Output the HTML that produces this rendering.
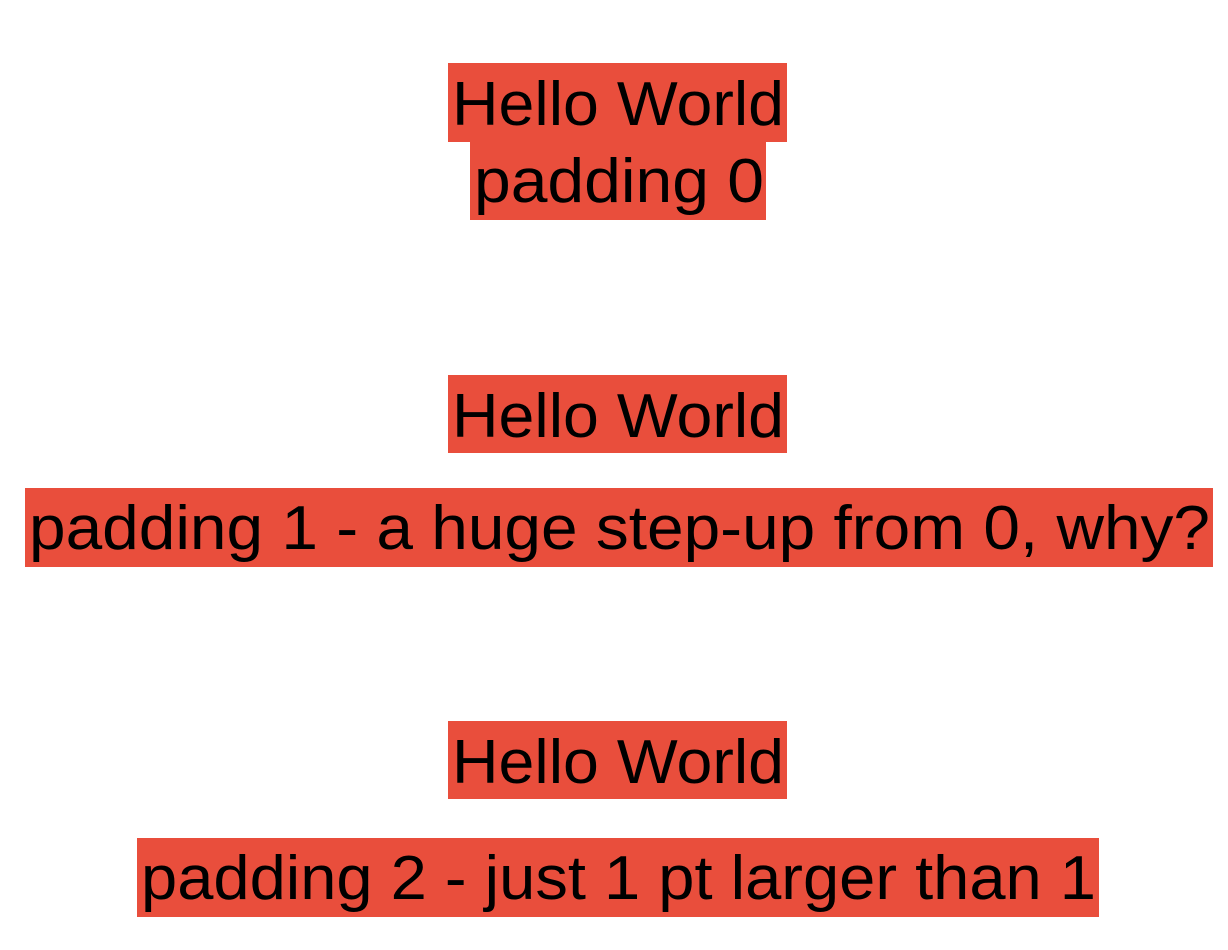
<!DOCTYPE html>
<html><head><style>html,body{margin:0;padding:0;background:#fff;width:1228px;height:950px;overflow:hidden}</style></head>
<body>
<svg width="1228" height="950" xmlns="http://www.w3.org/2000/svg" font-family="Liberation Sans, sans-serif" font-size="62" fill="#000">
<g fill="#E94E3C">
<rect x="448" y="63" width="339" height="79"/>
<rect x="470" y="141" width="296" height="79"/>
<rect x="448" y="375" width="339" height="78"/>
<rect x="25" y="488" width="1188" height="79"/>
<rect x="448" y="721" width="339" height="78"/>
<rect x="137" y="838" width="962" height="79"/>
</g>
<text x="452" y="125" textLength="332" lengthAdjust="spacingAndGlyphs">Hello World</text>
<text x="474" y="202" textLength="290" lengthAdjust="spacingAndGlyphs">padding 0</text>
<text x="452" y="437" textLength="332" lengthAdjust="spacingAndGlyphs">Hello World</text>
<text x="29" y="549" textLength="1181" lengthAdjust="spacingAndGlyphs">padding 1 - a huge step-up from 0, why?</text>
<text x="452" y="783" textLength="332" lengthAdjust="spacingAndGlyphs">Hello World</text>
<text x="141" y="899" textLength="955" lengthAdjust="spacingAndGlyphs">padding 2 - just 1 pt larger than 1</text>
</svg>
</body></html>
